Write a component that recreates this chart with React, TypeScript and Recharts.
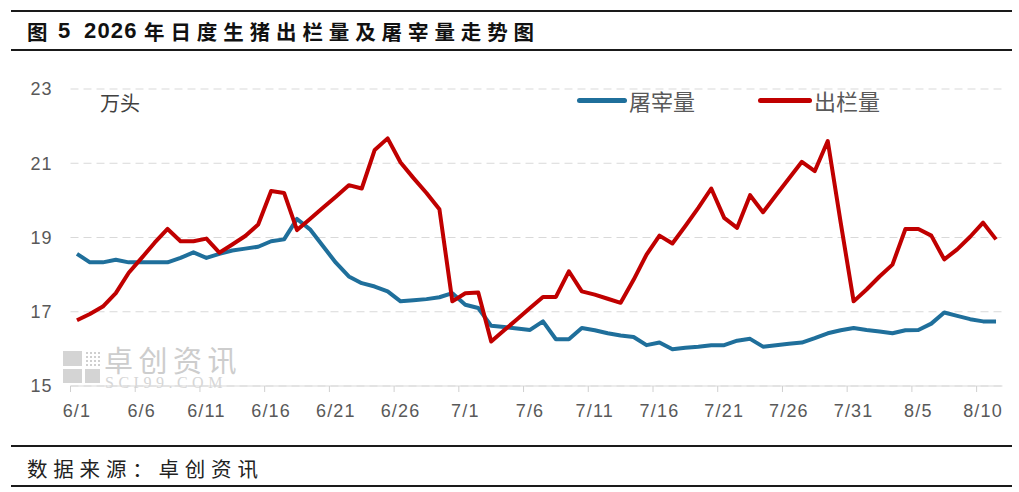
import React from 'react';
import { LineChart, Line, XAxis, YAxis, CartesianGrid } from 'recharts';

const dates: string[] = [
  '6/1','6/2','6/3','6/4','6/5','6/6','6/7','6/8','6/9','6/10',
  '6/11','6/12','6/13','6/14','6/15','6/16','6/17','6/18','6/19','6/20',
  '6/21','6/22','6/23','6/24','6/25','6/26','6/27','6/28','6/29','6/30',
  '7/1','7/2','7/3','7/4','7/5','7/6','7/7','7/8','7/9','7/10',
  '7/11','7/12','7/13','7/14','7/15','7/16','7/17','7/18','7/19','7/20',
  '7/21','7/22','7/23','7/24','7/25','7/26','7/27','7/28','7/29','7/30',
  '7/31','8/1','8/2','8/3','8/4','8/5','8/6','8/7','8/8','8/9',
  '8/10','8/11',
];

// 屠宰量 (万头)
const slaughter: number[] = [
  18.56, 18.33, 18.33, 18.4, 18.33, 18.33, 18.33, 18.33, 18.45, 18.6,
  18.45, 18.56, 18.65, 18.7, 18.75, 18.9, 18.95, 19.5, 19.22, 18.77,
  18.32, 17.95, 17.77, 17.68, 17.55, 17.28, 17.31, 17.34, 17.39, 17.5,
  17.19, 17.1, 16.62, 16.59, 16.55, 16.51, 16.74, 16.26, 16.26, 16.56,
  16.5, 16.42, 16.36, 16.32, 16.1, 16.17, 15.99, 16.03, 16.06, 16.1,
  16.1, 16.22, 16.27, 16.06, 16.1, 16.14, 16.17, 16.29, 16.42, 16.5,
  16.56, 16.51, 16.47, 16.42, 16.5, 16.51, 16.68, 16.98, 16.89, 16.8,
  16.74, 16.74,
];

// 出栏量 (万头)
const marketed: number[] = [
  16.77, 16.94, 17.14, 17.5, 18.05, 18.45, 18.86, 19.23, 18.9, 18.9,
  18.97, 18.59, 18.81, 19.04, 19.35, 20.25, 20.2, 19.2, 19.5, 19.8,
  20.1, 20.41, 20.32, 21.36, 21.67, 21.02, 20.6, 20.2, 19.76, 17.28,
  17.5, 17.52, 16.2, 16.5, 16.8, 17.1, 17.4, 17.4, 18.09, 17.55,
  17.46, 17.35, 17.24, 17.86, 18.54, 19.05, 18.84, 19.31, 19.8, 20.32,
  19.53, 19.26, 20.14, 19.68, 20.14, 20.59, 21.04, 20.79, 21.6, 19.4,
  17.28, 17.6, 17.95, 18.27, 19.23, 19.23, 19.05, 18.41, 18.68, 19.02,
  19.4, 18.95,
];

const yTicks: number[] = [15, 17, 19, 21, 23];

const seriesNames = ['屠宰量', '出栏量'];
const seriesColors = ['#1f6f9b', '#c00000'];

const titleParts = ['图', '5', '2026', '年日度生猪出栏量及屠宰量走势图'];
const unitText = '万头';
const sourceText = '数据来源：卓创资讯';

const data = dates.map((d, i) => ({ date: d, slaughter: slaughter[i], marketed: marketed[i] }));

const W = 1019;
const H = 492;
const M_LEFT = 10.5;
const Y_AXIS_W = 60;
const M_RIGHT = 16.5;
const M_TOP = 89;
const X_AXIS_H = 40;
const M_BOTTOM = 492 - 386 - X_AXIS_H;
const PLOT_W = W - M_LEFT - Y_AXIS_W - M_RIGHT;
const BAND = PLOT_W / dates.length;

const AXIS_FONT = '"Liberation Sans", "Noto Sans CJK SC", sans-serif';
const CJK_FONT = '"Noto Sans CJK SC", "Noto Sans", sans-serif';

const XTick = (props: any) => {
  const { x, y, payload } = props;
  return (
    <g>
      <line x1={x - BAND / 2} x2={x - BAND / 2} y1={y} y2={y + 6} stroke="#d0d0d0" strokeWidth={1} />
      <text x={x} y={y + 31} textAnchor="middle" fill="#595959" fontSize={18} fontFamily={AXIS_FONT} letterSpacing={1.2}>
        {payload.value}
      </text>
    </g>
  );
};

const YTick = (props: any) => {
  const { x, y, payload } = props;
  return (
    <text x={x - 18} y={y} dy="0.36em" textAnchor="end" fill="#595959" fontSize={18} fontFamily={AXIS_FONT} letterSpacing={1}>
      {payload.value}
    </text>
  );
};

const Rule = ({ top }: { top: number }) => (
  <div style={{ position: 'absolute', left: 11, top, width: 1001, height: 2, background: '#1a1a1a' }} />
);

const titleCjk: React.CSSProperties = {
  position: 'absolute', top: 19, fontFamily: CJK_FONT, fontWeight: 700, fontSize: 20.5,
  lineHeight: '24px', color: '#111', whiteSpace: 'nowrap',
};
const titleNum: React.CSSProperties = {
  position: 'absolute', top: 19, fontFamily: '"Liberation Sans", sans-serif', fontWeight: 700, fontSize: 22,
  lineHeight: '24px', color: '#111', whiteSpace: 'nowrap', letterSpacing: 1.2,
};

export default function App() {
  return (
    <div style={{ position: 'absolute', left: 0, top: 0, width: W, height: H, background: '#fff', overflow: 'hidden' }}>
      <Rule top={10} />
      <div style={{ ...titleCjk, left: 27 }}>{titleParts[0]}</div>
      <div style={{ ...titleNum, left: 58 }}>{titleParts[1]}</div>
      <div style={{ ...titleNum, left: 84 }}>{titleParts[2]}</div>
      <div style={{ ...titleCjk, left: 144, letterSpacing: 5.9 }}>{titleParts[3]}</div>
      <Rule top={49} />

      {/* watermark */}
      <div style={{ position: 'absolute', left: 63, top: 351, width: 19, height: 15, background: '#d4d4d4' }} />
      <div
        style={{
          position: 'absolute', left: 85, top: 351, width: 15, height: 15,
          backgroundImage: 'radial-gradient(#cfcfcf 1px, transparent 1.3px)', backgroundSize: '4px 4px',
        }}
      />
      <div style={{ position: 'absolute', left: 63, top: 369, width: 19, height: 14, background: '#d4d4d4' }} />
      <div style={{ position: 'absolute', left: 85, top: 369, width: 15, height: 14, background: '#d4d4d4' }} />
      <div
        style={{
          position: 'absolute', left: 104, top: 344, fontFamily: CJK_FONT, fontSize: 29, lineHeight: '30px',
          letterSpacing: 5.5, color: '#cdcdcd', whiteSpace: 'nowrap',
        }}
      >
        卓创资讯
      </div>
      <div
        style={{
          position: 'absolute', left: 105, top: 376, fontFamily: '"Liberation Serif", "DejaVu Serif", serif', fontSize: 16,
          lineHeight: '13px', letterSpacing: 4.5, color: '#d6d6d6', whiteSpace: 'nowrap',
        }}
      >
        SCI99.COM
      </div>

      <div style={{ position: 'absolute', left: 0, top: 0 }}>
        <LineChart
          width={W}
          height={H}
          data={data}
          margin={{ top: M_TOP, right: M_RIGHT, bottom: M_BOTTOM, left: M_LEFT }}
        >
          <CartesianGrid vertical={false} stroke="#d9d9d9" strokeDasharray="8 5" />
          <XAxis
            dataKey="date"
            scale="band"
            interval={4}
            height={X_AXIS_H}
            tickSize={0}
            tickMargin={0}
            tickLine={false}
            axisLine={{ stroke: '#d9d9d9', strokeWidth: 1.2 }}
            tick={<XTick />}
          />
          <YAxis
            domain={[15, 23]}
            ticks={yTicks}
            width={Y_AXIS_W}
            tickSize={0}
            tickMargin={0}
            axisLine={false}
            tickLine={false}
            tick={<YTick />}
            allowDataOverflow
          />
          <Line
            type="linear"
            dataKey="slaughter"
            name={seriesNames[0]}
            stroke={seriesColors[0]}
            strokeWidth={4}
            dot={false}
            activeDot={false}
            strokeLinejoin="round"
            isAnimationActive={false}
          />
          <Line
            type="linear"
            dataKey="marketed"
            name={seriesNames[1]}
            stroke={seriesColors[1]}
            strokeWidth={4}
            dot={false}
            activeDot={false}
            strokeLinejoin="round"
            isAnimationActive={false}
          />
        </LineChart>
      </div>

      <div
        style={{
          position: 'absolute', left: 100, top: 91, fontFamily: CJK_FONT, fontSize: 20, lineHeight: '24px',
          color: '#404040', whiteSpace: 'nowrap',
        }}
      >
        {unitText}
      </div>

      {/* legend */}
      {seriesNames.map((name, i) => (
        <div
          key={name}
          style={{ position: 'absolute', left: i === 0 ? 577 : 758, top: 87, display: 'flex', alignItems: 'center', height: 26 }}
        >
          <div style={{ width: i === 0 ? 50 : 54, height: 5, borderRadius: 3, background: seriesColors[i] }} />
          <span
            style={{
              marginLeft: 2, fontFamily: CJK_FONT, fontSize: 22, lineHeight: '26px', color: '#595959', whiteSpace: 'nowrap',
            }}
          >
            {name}
          </span>
        </div>
      ))}

      <Rule top={445} />
      <div
        style={{
          position: 'absolute', left: 27, top: 454, fontFamily: CJK_FONT, fontSize: 20.5, lineHeight: '28px',
          letterSpacing: 5.8, color: '#222', whiteSpace: 'nowrap',
        }}
      >
        {sourceText}
      </div>
      <Rule top={485} />
    </div>
  );
}
